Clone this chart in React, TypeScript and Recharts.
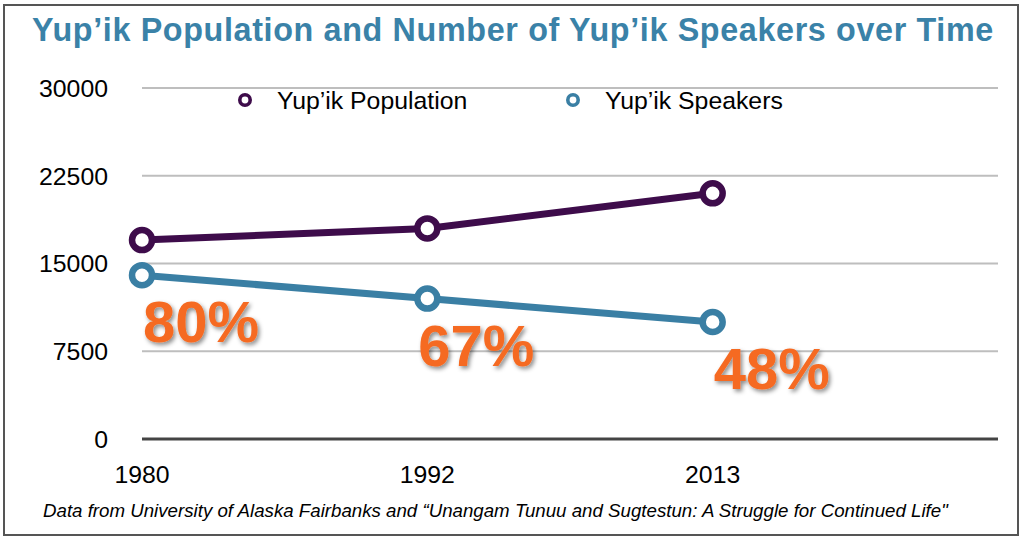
import React from 'react';
import { LineChart, Line, XAxis, YAxis, CartesianGrid, Legend, LabelList } from 'recharts';

const years = ['1980', '1992', '2013', ''];
const population = [17000, 18000, 21000, null];
const speakers = [14000, 12000, 10000, null];
const speakerShare = ['80%', '67%', '48%', null];
const yTicks = [0, 7500, 15000, 22500, 30000];

const TITLE = 'Yup’ik Population and Number of Yup’ik Speakers over Time';
const SOURCE = 'Data from University of Alaska Fairbanks and “Unangam Tunuu and Sugtestun: A Struggle for Continued Life"';
const POP_NAME = 'Yup’ik Population';
const SPK_NAME = 'Yup’ik Speakers';

const data = years.map((year, i) => ({
  year,
  population: population[i],
  speakers: speakers[i],
  share: speakerShare[i],
}));

const FONT = '"Liberation Sans", Arial, Helvetica, sans-serif';
const PURPLE = '#3e0c4b';
const TEAL = '#3a7fa4';
const ORANGE = '#f56a22';
const TITLE_COLOR = '#3a82a8';
const SHARE_DX = [1, -9, 1];

const ShareLabel = (props: any) => {
  const { x, y, value, index } = props;
  if (value == null || x == null || y == null) return null;
  return (
    <text
      x={x + (SHARE_DX[index] ?? 0)}
      y={y + 67}
      fill={ORANGE}
      fontSize={58}
      fontWeight="bold"
      fontFamily={FONT}
      filter="url(#pctShadow)"
    >
      {value}
    </text>
  );
};

const legendItems = [
  { name: POP_NAME, color: PURPLE, markerX: 245, textX: 277 },
  { name: SPK_NAME, color: TEAL, markerX: 573, textX: 605 },
];

const LegendContent = () => (
  <div style={{ position: 'relative', width: 1024, height: 0 }}>
    {legendItems.map((it) => (
      <React.Fragment key={it.name}>
        <svg
          width={20}
          height={20}
          style={{ position: 'absolute', left: it.markerX - 10, top: 90 }}
        >
          <circle cx={10} cy={10} r={5.2} fill="#fff" stroke={it.color} strokeWidth={3.6} />
        </svg>
        <span
          style={{
            position: 'absolute',
            left: it.textX,
            top: 88.5,
            fontFamily: FONT,
            fontSize: 24.8,
            lineHeight: '24.8px',
            color: '#000',
            whiteSpace: 'nowrap',
          }}
        >
          {it.name}
        </span>
      </React.Fragment>
    ))}
  </div>
);

export default function App() {
  return (
    <div style={{ position: 'absolute', left: 0, top: 0, width: 1024, height: 541, background: '#fff' }}>
      <svg width={0} height={0} style={{ position: 'absolute' }}>
        <defs>
          <filter id="pctShadow" x="-20%" y="-20%" width="140%" height="160%">
            <feDropShadow dx={2} dy={2.5} stdDeviation={2} floodColor="#000" floodOpacity={0.45} />
          </filter>
        </defs>
      </svg>
      <div
        style={{
          position: 'absolute',
          left: 32,
          top: 13.5,
          fontFamily: FONT,
          fontWeight: 'bold',
          fontSize: 32.3,
          lineHeight: '32.3px',
          letterSpacing: 0.65,
          color: TITLE_COLOR,
          whiteSpace: 'nowrap',
        }}
      >
        {TITLE}
      </div>
      <LineChart
        width={1024}
        height={541}
        data={data}
        margin={{ top: 88, right: 26, bottom: 72, left: 0 }}
        style={{ fontFamily: FONT }}
      >
        <CartesianGrid vertical={false} stroke="#bebebe" strokeWidth={2} />
        <XAxis
          dataKey="year"
          interval={0}
          tickLine={false}
          tickSize={0}
          tickMargin={26}
          height={30}
          axisLine={{ stroke: '#444', strokeWidth: 3 }}
          tick={{ fill: '#000', fontSize: 24.8, fontFamily: FONT }}
        />
        <YAxis
          width={142}
          domain={[0, 30000]}
          ticks={yTicks}
          interval={0}
          axisLine={false}
          tickLine={false}
          tickSize={0}
          tickMargin={34}
          tick={{ fill: '#000', fontSize: 24.8, fontFamily: FONT }}
        />
        <Legend
          layout="vertical"
          verticalAlign="middle"
          align="center"
          wrapperStyle={{ top: 0, left: 0, width: 1024, height: 0 }}
          content={LegendContent}
        />
        <Line
          type="linear"
          dataKey="population"
          name={POP_NAME}
          stroke={PURPLE}
          strokeWidth={7}
          dot={{ r: 10, fill: '#fff', stroke: PURPLE, strokeWidth: 6.5 }}
          activeDot={false}
          isAnimationActive={false}
        />
        <Line
          type="linear"
          dataKey="speakers"
          name={SPK_NAME}
          stroke={TEAL}
          strokeWidth={7}
          dot={{ r: 10, fill: '#fff', stroke: TEAL, strokeWidth: 6.5 }}
          activeDot={false}
          isAnimationActive={false}
        >
          <LabelList dataKey="share" content={ShareLabel} />
        </Line>
      </LineChart>
      <div
        style={{
          position: 'absolute',
          left: 43,
          top: 502,
          fontFamily: FONT,
          fontStyle: 'italic',
          fontSize: 18.7,
          lineHeight: '18.7px',
          color: '#000',
          whiteSpace: 'nowrap',
        }}
      >
        {SOURCE}
      </div>
      <div
        style={{
          position: 'absolute',
          left: 3,
          top: 4,
          width: 1016,
          height: 532,
          boxSizing: 'border-box',
          border: '2.5px solid #555',
          pointerEvents: 'none',
        }}
      />
    </div>
  );
}
